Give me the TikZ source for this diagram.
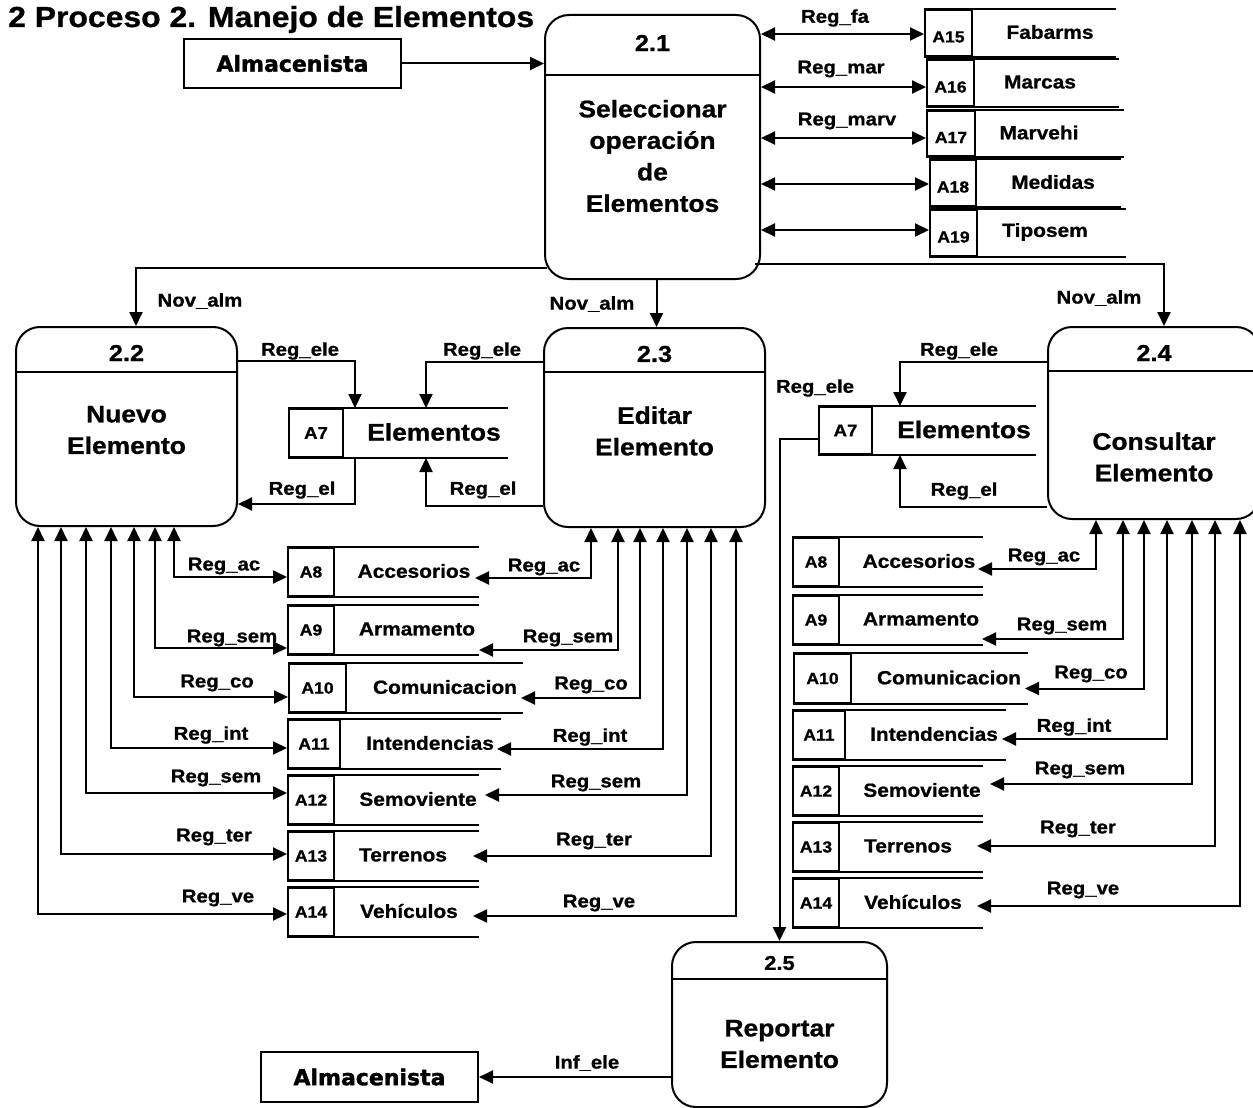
\documentclass[tikz,border=0pt]{standalone}
\usepackage{fontspec}
\setmainfont{Liberation Sans}[FakeStretch=1.1,BoldFeatures={FakeBold=0.9}]
\newfontfamily\heavyfont{DejaVu Sans}[BoldFeatures={FakeBold=1.6}]
\usetikzlibrary{arrows.meta,calc}

\tikzset{
  flow/.style={line width=2pt},
  tip/.tip={Triangle[length=14pt,width=13pt]},
  arr/.style={flow,-tip},
  dbl/.style={flow,tip-tip},
  proc/.style={draw,line width=2pt,rounded corners=24pt,inner sep=0pt},
  extent/.style={draw,line width=2pt,inner sep=0pt,minimum width=217pt,minimum height=49pt,
    font=\heavyfont\bfseries\fontsize{22}{26}\selectfont},
  idcell/.style={draw,line width=2pt,inner sep=0pt},
  title/.style={inner sep=0pt,font=\bfseries\fontsize{29}{34}\selectfont},
  lbl/.style={inner sep=0pt,font=\bfseries\fontsize{18.5}{22}\selectfont},
  ptext/.style={inner sep=0pt,align=center,font=\bfseries\fontsize{24}{31.5}\selectfont},
  pnum/.style={inner sep=0pt,font=\bfseries\fontsize{23}{28}\selectfont},
  stname/.style={inner sep=0pt,font=\bfseries\fontsize{19}{22}\selectfont},
  idtext/.style={inner sep=0pt,font=\bfseries\fontsize{16}{19}\selectfont},
}

% data store: name, left x, top y, id cell width, length, id, label, label x, height
\newcommand{\dstore}[9]{%
  \node[idcell,anchor=north west,minimum width=#4pt,minimum height=#9pt] (#1) at (#2,#3) {};
  \draw[flow] (#1.north west) -- ++(#5,0);
  \draw[flow] (#1.south west) -- ++(#5,0);
  \coordinate (#1e) at ($(#1.west)+(#5,0)$);
  \node[idtext] (#1id) at (#1.center) {#6};
  \node[stname] (#1nm) at (#8,#3+#9/2) {#7};
}

\begin{document}
\begin{tikzpicture}[x=1pt,y=-1pt]
\useasboundingbox (0,0) rectangle (1253,1108);

% title
\node[title,anchor=base west] (ttl) at (8,27) {2 Proceso 2. Manejo de Elementos};

% processes
\node[proc,minimum width=215pt,minimum height=264pt] (p21) at (652.5,147) {};
\draw[flow] ([yshift=-61pt]p21.north west) -- ([yshift=-61pt]p21.north east);
\node[pnum] (n21) at (652.5,43) {2.1};
\node[ptext] (t21) at (652.5,156) {Seleccionar\\operación\\de\\Elementos};

\node[proc,minimum width=221pt,minimum height=199pt] (p22) at (126.5,426.5) {};
\draw[flow] ([yshift=-46pt]p22.north west) -- ([yshift=-46pt]p22.north east);
\node[pnum] (n22) at (126.5,353) {2.2};
\node[ptext] (t22) at (126.5,430) {Nuevo\\Elemento};

\node[proc,minimum width=221pt,minimum height=199pt] (p23) at (654.5,427.5) {};
\draw[flow] ([yshift=-45pt]p23.north west) -- ([yshift=-45pt]p23.north east);
\node[pnum] (n23) at (654.5,354) {2.3};
\node[ptext] (t23) at (654.5,431) {Editar\\Elemento};

\node[proc,minimum width=212pt,minimum height=192pt] (p24) at (1154,423) {};
\draw[flow] ([yshift=-45pt]p24.north west) -- ([yshift=-45pt]p24.north east);
\node[pnum] (n24) at (1154,353) {2.4};
\node[ptext] (t24) at (1154,457) {Consultar\\Elemento};

\node[proc,minimum width=215pt,minimum height=165pt] (p25) at (779.5,1024.5) {};
\draw[flow] ([yshift=-38pt]p25.north west) -- ([yshift=-38pt]p25.north east);
\node[pnum,font=\bfseries\fontsize{20}{24}\selectfont] (n25) at (779.5,963) {2.5};
\node[ptext] (t25) at (779.5,1044) {Reportar\\Elemento};

% external entities
\node[extent] (alm1) at (292.5,63.5) {Almacenista};
\node[extent,minimum height=50pt] (alm2) at (369.5,1077) {Almacenista};

% data stores of process 2.1
\begin{scope}[idtext/.append style={yshift=-4pt}]
\dstore{s15}{924}{9}{47}{192}{A15}{Fabarms}{1050}{46}
\dstore{s16}{926}{59}{47}{193}{A16}{Marcas}{1040}{46}
\dstore{s17}{926}{110}{48}{198}{A17}{Marvehi}{1039}{45}
\dstore{s18}{929}{159}{46}{192}{A18}{Medidas}{1053}{46}
\dstore{s19}{929}{209}{47}{197}{A19}{Tiposem}{1045}{46}
\end{scope}

% element stores
\begin{scope}[stname/.append style={font=\bfseries\fontsize{24}{28}\selectfont},
              idtext/.append style={font=\bfseries\fontsize{17}{20}\selectfont}]
\dstore{s7a}{288}{408}{54}{220}{A7}{Elementos}{434}{48}
\dstore{s7b}{818}{406}{53}{218}{A7}{Elementos}{964}{47}
\end{scope}

% left column of stores
\dstore{s8a}{287}{547}{46}{192}{A8}{Accesorios}{414}{48}
\dstore{s9a}{287}{605}{46}{192}{A9}{Armamento}{417}{48}
\dstore{s10a}{288}{663}{57}{235}{A10}{Comunicacion}{445}{48}
\dstore{s11a}{287}{719}{52}{214}{A11}{Intendencias}{430}{48}
\dstore{s12a}{287}{775}{46}{192}{A12}{Semoviente}{418}{48}
\dstore{s13a}{287}{831}{46}{192}{A13}{Terrenos}{403}{48}
\dstore{s14a}{287}{887}{46}{192}{A14}{Vehículos}{409}{48}

% right column of stores
\dstore{s8b}{792}{537}{46}{191}{A8}{Accesorios}{919}{48}
\dstore{s9b}{792}{595}{46}{191}{A9}{Armamento}{921}{48}
\dstore{s10b}{793}{653}{57}{235}{A10}{Comunicacion}{949}{49}
\dstore{s11b}{792}{710}{52}{214}{A11}{Intendencias}{934}{48}
\dstore{s12b}{792}{766}{46}{191}{A12}{Semoviente}{922}{48}
\dstore{s13b}{792}{822}{46}{191}{A13}{Terrenos}{908}{48}
\dstore{s14b}{792}{878}{46}{191}{A14}{Vehículos}{913}{48}

% flows of process 2.1
\draw[arr] (alm1.east) -- (alm1.east -| p21.west);
\coordinate (c15) at ($(s15.west)+(0,1)$);
\coordinate (c16) at ($(s16.west)+(0,4)$);
\coordinate (c17) at ($(s17.west)+(0,4.5)$);
\coordinate (c18) at ($(s18.west)+(0,1)$);
\coordinate (c19) at ($(s19.west)+(0,-3)$);
\draw[dbl] (c15 -| p21.east) -- (c15);
\draw[dbl] (c16 -| p21.east) -- (c16);
\draw[dbl] (c17 -| p21.east) -- (c17);
\draw[dbl] (c18 -| p21.east) -- (c18);
\draw[dbl] (c19 -| p21.east) -- (c19);

\draw[arr] ([xshift=3pt,yshift=12pt]p21.south west) -| ([xshift=121pt]p22.north west);
\coordinate (m23) at ([xshift=2pt]p23.north);
\draw[arr] (m23 |- p21.south) -- (m23);
\draw[arr] ([xshift=-6pt,yshift=16pt]p21.south east) -| ([xshift=10pt]p24.north);

% flows with the element stores
\draw[arr] ([yshift=-35pt]p22.north east) -| ([xshift=11pt]s7a.north east);
\draw[arr] ([yshift=-35pt]p23.north west) -| ([xshift=82pt]s7a.north east);
\draw[arr] ([xshift=11pt]s7a.south east) |- ([yshift=23pt]p22.south east);
\draw[arr] ([yshift=22pt]p23.south west) -| ([xshift=82pt]s7a.south east);
\draw[arr] ([yshift=-36pt]p24.north west) -| ([xshift=27pt]s7b.north east);
\draw[arr] ([yshift=13pt]p24.south west) -| ([xshift=27pt]s7b.south east);
\draw[arr] ($(s7b.west)+(0,8)$) -| (p25.north);

% process 2.2 with the left stores
\draw[dbl] ([xshift=159pt]p22.south west) |- ($(s8a.west)+(0,5)$);
\draw[dbl] ([xshift=140pt]p22.south west) |- ($(s9a.west)+(0,18)$);
\draw[dbl] ([xshift=119pt]p22.south west) |- ($(s10a.west)+(0,9)$);
\draw[dbl] ([xshift=96pt]p22.south west) |- ($(s11a.west)+(0,4)$);
\draw[dbl] ([xshift=71pt]p22.south west) |- ($(s12a.west)+(0,-7)$);
\draw[dbl] ([xshift=46pt]p22.south west) |- ($(s13a.west)+(0,-2)$);
\draw[dbl] ([xshift=23pt]p22.south west) |- ($(s14a.west)+(0,2)$);

% process 2.3 with the left stores
\draw[dbl] ([xshift=48pt]p23.south west) |- ($(s8ae)+(-4,6)$);
\draw[dbl] ([xshift=75pt]p23.south west) |- ($(s9ae)+(0,20)$);
\draw[dbl] ([xshift=97pt]p23.south west) |- ($(s10ae)+(-2,10)$);
\draw[dbl] ([xshift=120pt]p23.south west) |- ($(s11ae)+(-4,5)$);
\draw[dbl] ([xshift=144pt]p23.south west) |- ($(s12ae)+(6,-5)$);
\draw[dbl] ([xshift=168pt]p23.south west) |- ($(s13ae)+(-6,0)$);
\draw[dbl] ([xshift=193pt]p23.south west) |- ($(s14ae)+(-6,4)$);

% process 2.4 with the right stores
\draw[dbl] ([xshift=49pt]p24.south west) |- ($(s8be)+(-5,7)$);
\draw[dbl] ([xshift=76pt]p24.south west) |- ($(s9be)+(-1,19)$);
\draw[dbl] ([xshift=97pt]p24.south west) |- ($(s10be)+(-3,10)$);
\draw[dbl] ([xshift=120pt]p24.south west) |- ($(s11be)+(-4,4)$);
\draw[dbl] ([xshift=145pt]p24.south west) |- ($(s12be)+(7,-7)$);
\draw[dbl] ([xshift=168pt]p24.south west) |- ($(s13be)+(-6,-1)$);
\draw[dbl] ([xshift=193pt]p24.south west) |- ($(s14be)+(-6,3)$);

% report
\draw[arr] (p25.west |- alm2.east) -- (alm2.east);

% flow labels
\node[lbl] (l1) at (835,18) {Reg\_fa};
\node[lbl] (l2) at (841,69) {Reg\_mar};
\node[lbl] (l3) at (847,121) {Reg\_marv};
\node[lbl] (l4) at (200,301) {Nov\_alm};
\node[lbl] (l5) at (592,304) {Nov\_alm};
\node[lbl] (l6) at (1099,298) {Nov\_alm};
\node[lbl] (l7) at (300,351) {Reg\_ele};
\node[lbl] (l8) at (482,351) {Reg\_ele};
\node[lbl] (l9) at (302,490) {Reg\_el};
\node[lbl] (l10) at (483,490) {Reg\_el};
\node[lbl] (l11) at (959,351) {Reg\_ele};
\node[lbl] (l12) at (964,491) {Reg\_el};
\node[lbl] (l13) at (815,388) {Reg\_ele};

\node[lbl] (l14) at (224,566) {Reg\_ac};
\node[lbl] (l15) at (232,638) {Reg\_sem};
\node[lbl] (l16) at (217,683) {Reg\_co};
\node[lbl] (l17) at (211,735) {Reg\_int};
\node[lbl] (l18) at (216,778) {Reg\_sem};
\node[lbl] (l19) at (214,837) {Reg\_ter};
\node[lbl] (l20) at (218,898) {Reg\_ve};

\node[lbl] (l21) at (544,567) {Reg\_ac};
\node[lbl] (l22) at (568,638) {Reg\_sem};
\node[lbl] (l23) at (591,685) {Reg\_co};
\node[lbl] (l24) at (590,737) {Reg\_int};
\node[lbl] (l25) at (596,783) {Reg\_sem};
\node[lbl] (l26) at (594,841) {Reg\_ter};
\node[lbl] (l27) at (599,903) {Reg\_ve};

\node[lbl] (l28) at (1044,557) {Reg\_ac};
\node[lbl] (l29) at (1062,626) {Reg\_sem};
\node[lbl] (l30) at (1091,674) {Reg\_co};
\node[lbl] (l31) at (1074,727) {Reg\_int};
\node[lbl] (l32) at (1080,770) {Reg\_sem};
\node[lbl] (l33) at (1078,829) {Reg\_ter};
\node[lbl] (l34) at (1083,890) {Reg\_ve};

\node[lbl] (l35) at (587,1063) {Inf\_ele};
\end{tikzpicture}
\end{document}
